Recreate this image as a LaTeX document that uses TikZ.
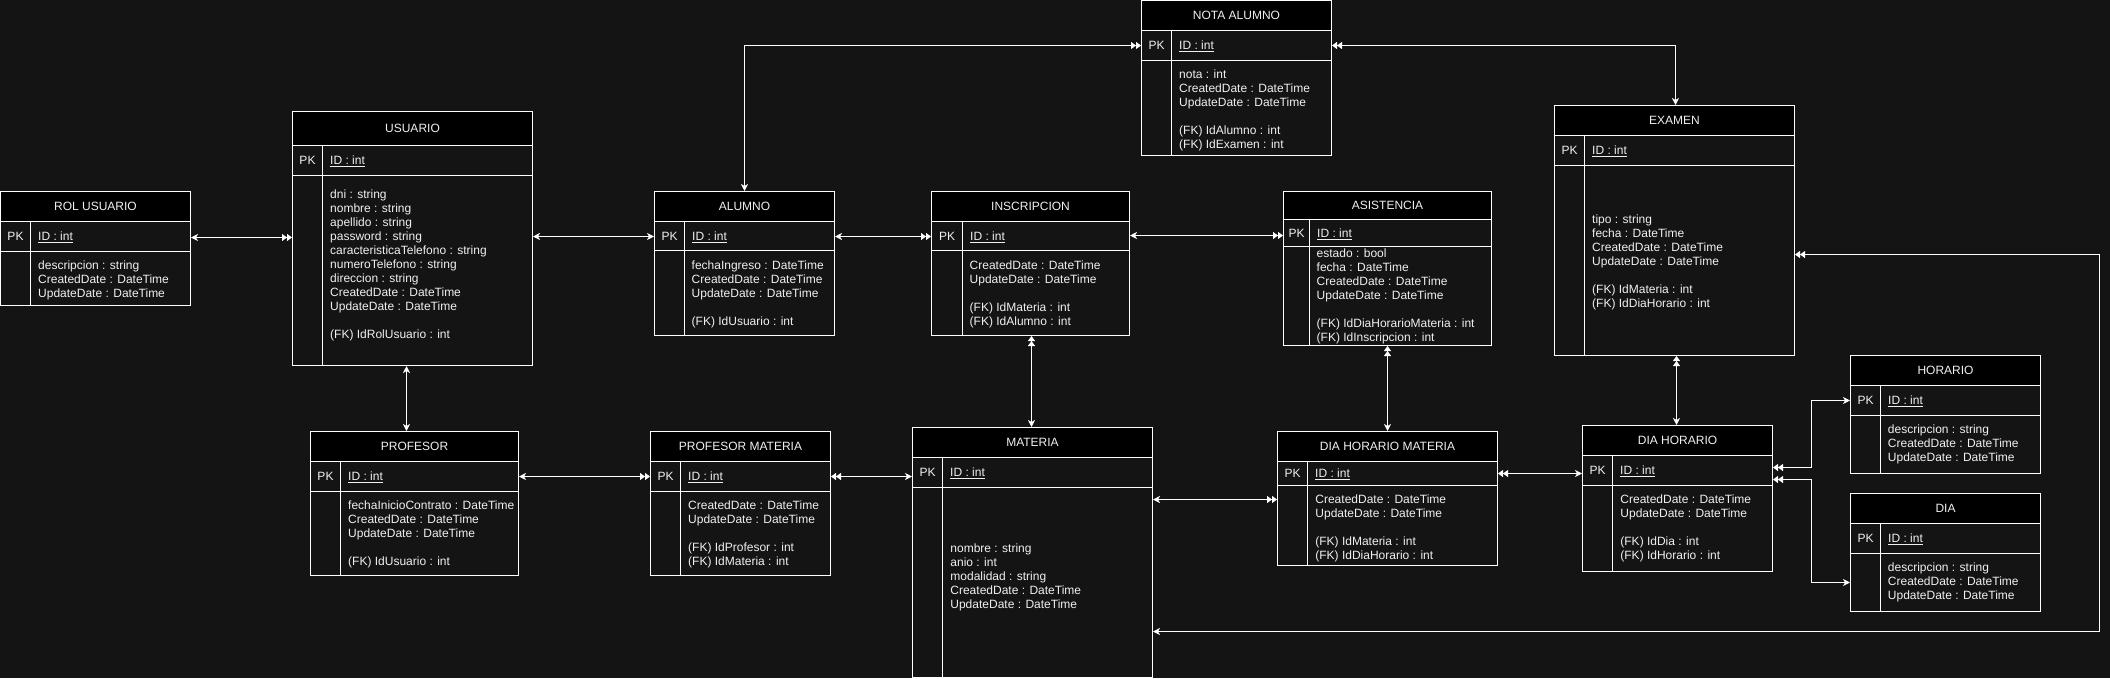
\documentclass[tikz,border=0pt]{standalone}
\usepackage{fontspec}
\setmainfont{Liberation Sans}
\usetikzlibrary{arrows.meta}
\definecolor{bg}{HTML}{141414}
\definecolor{fg}{HTML}{F0F0F0}
\tikzset{
  ebox/.style={draw=white, line width=1pt, inner sep=0pt},
  hdr/.style={fill=black},
  eline/.style={draw=white, line width=1pt},
  txt/.style={text=fg, inner sep=0pt, font=\fontsize{12}{14}\selectfont},
  body/.style={txt, align=left, anchor=north west},
  conn/.style={draw=white, line width=1pt},
  ss/.style={conn, arrows={Stealth[length=7pt,width=7pt,inset=2pt]-Stealth[length=7pt,width=7pt,inset=2pt]}},
  sd/.style={conn, arrows={Stealth[length=7pt,width=7pt,inset=2pt]-Triangle[length=5pt,width=7pt]Triangle[length=5pt,width=7pt]}},
  ds/.style={conn, arrows={Triangle[length=5pt,width=7pt]Triangle[length=5pt,width=7pt]-Stealth[length=7pt,width=7pt,inset=2pt]}}
}
% name, x1, y1, x2, y2, header bottom, pk bottom, divider x, title
\newcommand{\erent}[9]{%
  \fill[hdr] (#2,#3) rectangle (#4,#6);
  \node[ebox, minimum width={(#4-#2)*1pt}, minimum height={(#5-#3)*1pt}] (#1) at ({(#2+#4)/2},{(#3+#5)/2}) {};
  \draw[eline] (#2,#6) -- (#4,#6) (#2,#7) -- (#4,#7) (#8,#6) -- (#8,#5);
  \node[txt, anchor=base] (#1-t) at ({(#2+#4)/2},{(#3+#6)/2+4.3}) {#9};
  \node[txt, anchor=base] (#1-pk) at ({(#2+#8)/2},{(#6+#7)/2+4.3}) {PK};
  \node[txt, anchor=base west] (#1-id) at ({#8+7.5},{(#6+#7)/2+4.3}) {\underline{ID : int}};
}
\newcommand{\CDt}{CreatedDate : DateTime}
\newcommand{\UDt}{UpdateDate : DateTime}
\begin{document}
\begin{tikzpicture}[x=1pt, y=-1pt]
\fill[bg] (0,0) rectangle (2110,678);
\useasboundingbox (0,0) rectangle (2110,678);

\erent{rol}{0.5}{191.5}{190.5}{305.5}{221.5}{251.5}{30.5}{ROL USUARIO}
\node[body] (rol-b) at (38,260.7) {descripcion : string\\\CDt\\\UDt};

\erent{usuario}{292.5}{111.5}{532.5}{365.5}{145.5}{175.5}{322.5}{USUARIO}
\node[body] (usuario-b) at (330,190) {dni : string\\nombre : string\\apellido : string\\password : string\\caracteristicaTelefono : string\\numeroTelefono : string\\direccion : string\\\CDt\\\UDt\\[14pt](FK) IdRolUsuario : int};

\erent{alumno}{654.5}{191.5}{834.5}{335.5}{221.5}{250.5}{684.5}{ALUMNO}
\node[body] (alumno-b) at (691.5,260.7) {fechaIngreso : DateTime\\\CDt\\\UDt\\[14pt](FK) IdUsuario : int};

\erent{inscripcion}{931.5}{191.5}{1129.5}{335.5}{221.5}{250.5}{962.5}{INSCRIPCION}
\node[body] (inscripcion-b) at (969.5,260.7) {\CDt\\\UDt\\[14pt](FK) IdMateria : int\\(FK) IdAlumno : int};

\erent{asistencia}{1283.5}{191.5}{1491.5}{345.5}{219.5}{246.5}{1309.5}{ASISTENCIA}
\node[body] (asistencia-b) at (1316.5,249) {estado : bool\\fecha : DateTime\\\CDt\\\UDt\\[14pt](FK) IdDiaHorarioMateria : int\\(FK) IdInscripcion : int};

\erent{nota}{1141.5}{0.5}{1331.5}{155.5}{30.5}{60.5}{1171.5}{NOTA ALUMNO}
\node[body] (nota-b) at (1179,69.4) {nota : int\\\CDt\\\UDt\\[14pt](FK) IdAlumno : int\\(FK) IdExamen : int};

\erent{examen}{1554.5}{105.5}{1794.5}{355.5}{135.5}{165.5}{1584.5}{EXAMEN}
\node[body] (examen-b) at (1592,214.4) {tipo : string\\fecha : DateTime\\\CDt\\\UDt\\[14pt](FK) IdMateria : int\\(FK) IdDiaHorario : int};

\erent{profesor}{310.5}{431.5}{518.5}{575.5}{461.5}{491.5}{340.5}{PROFESOR}
\node[body] (profesor-b) at (348,500.4) {fechaInicioContrato : DateTime\\\CDt\\\UDt\\[14pt](FK) IdUsuario : int};

\erent{pm}{650.5}{431.5}{830.5}{575.5}{461.5}{491.5}{680.5}{PROFESOR MATERIA}
\node[body] (pm-b) at (688,500.4) {\CDt\\\UDt\\[14pt](FK) IdProfesor : int\\(FK) IdMateria : int};

\erent{materia}{912.5}{427.5}{1152.5}{677.5}{457.5}{487.5}{942.5}{MATERIA}
\node[body] (materia-b) at (950.2,544) {nombre : string\\anio : int\\modalidad : string\\\CDt\\\UDt};

\erent{dhm}{1277.5}{431.5}{1497.5}{565.5}{461.5}{485.5}{1307.5}{DIA HORARIO MATERIA}
\node[body] (dhm-b) at (1315.2,494.4) {\CDt\\\UDt\\[14pt](FK) IdMateria : int\\(FK) IdDiaHorario : int};

\erent{dh}{1582.5}{425.5}{1772.5}{571.5}{455.5}{485.5}{1612.5}{DIA HORARIO}
\node[body] (dh-b) at (1620.2,494.4) {\CDt\\\UDt\\[14pt](FK) IdDia : int\\(FK) IdHorario : int};

\erent{horario}{1850.5}{355.5}{2040.5}{473.5}{385.5}{415.5}{1880.5}{HORARIO}
\node[body] (horario-b) at (1887.7,424.4) {descripcion : string\\\CDt\\\UDt};

\erent{dia}{1850.5}{493.5}{2040.5}{611.5}{523.5}{553.5}{1880.5}{DIA}
\node[body] (dia-b) at (1887.7,562.4) {descripcion : string\\\CDt\\\UDt};

% connectors
\draw[sd] (rol.east |- 0,237.5) -- (usuario.west |- 0,237.5);
\draw[ss] (usuario.east |- 0,236.5) -- (alumno.west |- 0,236.5);
\draw[ss] (406.5,0 |- usuario.south) -- (406.5,0 |- profesor.north);
\draw[sd] (744.5,0 |- alumno.north) |- (nota.west |- 0,45.5);
\draw[sd] (alumno.east |- 0,236.5) -- (inscripcion.west |- 0,236.5);
\draw[sd] (inscripcion.east |- 0,235.5) -- (asistencia.west |- 0,235.5);
\draw[ds] (nota.east |- 0,45.5) -| (1675.5,0 |- examen.north);
\draw[sd] (profesor.east |- 0,476.5) -- (pm.west |- 0,476.5);
\draw[ds] (pm.east |- 0,476.5) -- (materia.west |- 0,476.5);
\draw[ds] (1031.5,0 |- inscripcion.south) -- (1031.5,0 |- materia.north);
\draw[ds] (1387.5,0 |- asistencia.south) -- (1387.5,0 |- dhm.north);
\draw[sd] (materia.east |- 0,499.5) -- (dhm.west |- 0,499.5);
\draw[ds] (dhm.east |- 0,473.5) -- (dh.west |- 0,473.5);
\draw[ds] (1676.5,0 |- examen.south) -- (1676.5,0 |- dh.north);
\draw[ds] (dh.east |- 0,467.5) -- (1811.5,467.5) |- (horario.west |- 0,400.5);
\draw[ds] (dh.east |- 0,479.5) -- (1811.5,479.5) |- (dia.west |- 0,582.5);
\draw[ds] (examen.east |- 0,254.5) -- (2099.5,254.5) |- (materia.east |- 0,631.5);
\end{tikzpicture}
\end{document}
